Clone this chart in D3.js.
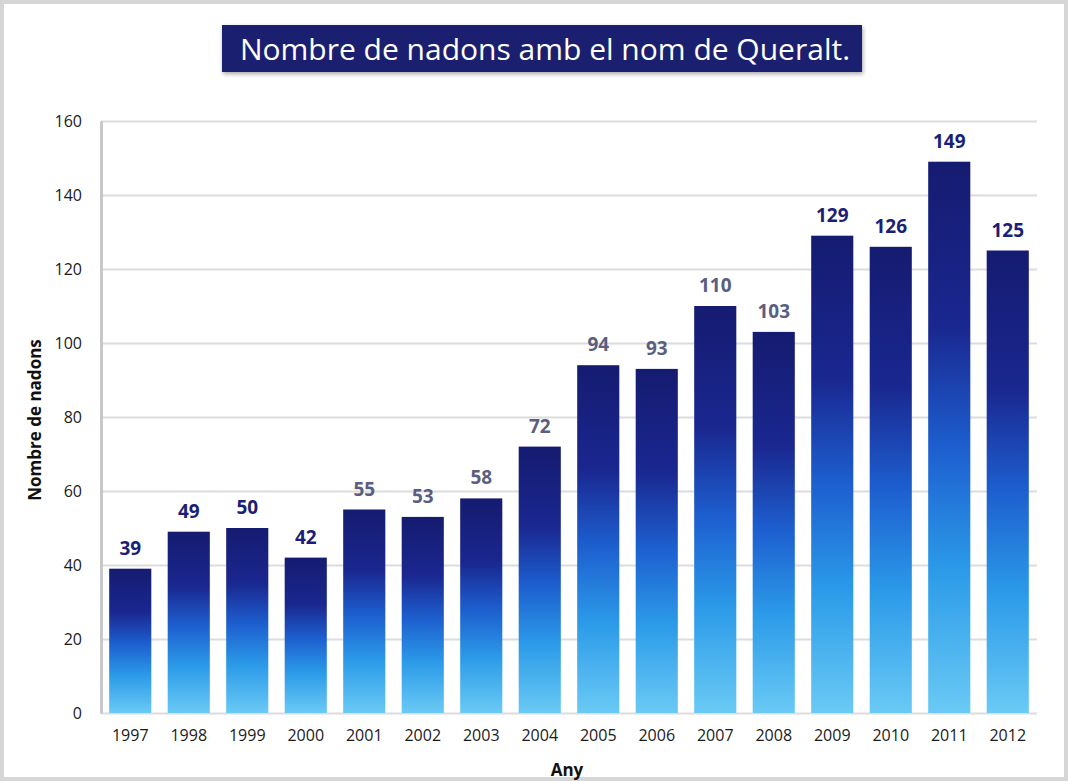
<!DOCTYPE html>
<meta charset="utf-8">
<style>
body { margin: 0; background: #fff; }
svg text { font-family: "Open Sans", "Noto Sans", sans-serif; }
.grid line { stroke: #dcdcdc; stroke-width: 2px; }
.grid path { display: none; }
.axis text { font-size: 16px; fill: #1a1a1a; }
.axis path, .axis line { stroke: #c8c8c8; }
</style>
<body>
<script src="https://d3js.org/d3.v7.min.js"></script>
<script>
// data
var years = ["1997","1998","1999","2000","2001","2002","2003","2004",
             "2005","2006","2007","2008","2009","2010","2011","2012"];
var births = [39, 49, 50, 42, 55, 53, 58, 72, 94, 93, 110, 103, 129, 126, 149, 125];
var yTicks = [0, 20, 40, 60, 80, 100, 120, 140, 160];

var W = 1068, H = 781;
var margin = {top: 121, right: 31, bottom: 68, left: 101},
    width = W - margin.left - margin.right,
    height = H - margin.top - margin.bottom;

var svg = d3.select("body").append("svg")
    .attr("width", W)
    .attr("height", H);

// light frame round the picture
svg.append("rect")
    .attr("x", 2).attr("y", 2)
    .attr("width", W - 4).attr("height", H - 4)
    .attr("fill", "#fff")
    .attr("stroke", "#d6d6d6")
    .attr("stroke-width", 4);

var defs = svg.append("defs");
var grad = defs.append("linearGradient")
    .attr("id", "barGrad")
    .attr("x1", 0).attr("y1", 0).attr("x2", 0).attr("y2", 1);
[["0%", "#151b70"], ["30%", "#1a2790"], ["52%", "#1d5fcf"],
 ["74%", "#2b9ae8"], ["100%", "#6acaf5"]].forEach(function(s) {
  grad.append("stop").attr("offset", s[0]).attr("stop-color", s[1]);
});

// title box
var title = svg.append("g");
title.append("rect")
    .attr("x", 222).attr("y", 25)
    .attr("width", 640).attr("height", 47)
    .attr("fill", "#1b1f6f")
    .style("filter", "drop-shadow(1px 2px 2px rgba(0,0,0,0.35))");
title.append("text")
    .attr("x", 545).attr("y", 60)
    .attr("text-anchor", "middle")
    .attr("fill", "#fff")
    .style("font-size", "30px")
    .text("Nombre de nadons amb el nom de Queralt.");

var g = svg.append("g")
    .attr("transform", "translate(" + margin.left + "," + margin.top + ")");

var x = d3.scaleBand().domain(years).range([0, width])
    .paddingInner(0.28).paddingOuter(0.14);
var y = d3.scaleLinear().domain([0, 160]).range([height, 0]);

// gridlines
g.append("g")
    .attr("class", "grid")
    .call(d3.axisLeft(y).tickValues(yTicks).tickSize(-width).tickFormat(""));

// y axis
g.append("g")
    .attr("class", "axis")
    .call(d3.axisLeft(y).tickValues(yTicks).tickSize(0).tickPadding(19))
    .select(".domain").attr("stroke-width", 3);

// x axis
g.append("g")
    .attr("class", "axis")
    .attr("transform", "translate(0," + height + ")")
    .call(d3.axisBottom(x).tickSize(0).tickPadding(17))
    .select(".domain").remove();

// bars
g.selectAll(".bar")
    .data(births)
  .enter().append("rect")
    .attr("class", "bar")
    .attr("x", function(d, i) { return x(years[i]); })
    .attr("y", function(d) { return y(d); })
    .attr("width", x.bandwidth())
    .attr("height", function(d) { return height - y(d); })
    .attr("fill", "url(#barGrad)");

// value labels
g.selectAll(".lbl")
    .data(births)
  .enter().append("text")
    .attr("class", "lbl")
    .attr("x", function(d, i) { return x(years[i]) + x.bandwidth() / 2; })
    .attr("y", function(d) { return y(d) - 14; })
    .attr("text-anchor", "middle")
    .style("font-size", "19px")
    .style("font-weight", "bold")
    .attr("fill", function(d, i) { return (i >= 4 && i <= 11) ? "#5a5e80" : "#1b1f75"; })
    .text(function(d) { return d; });

// axis titles
svg.append("text")
    .attr("x", margin.left + width / 2 - 2)
    .attr("y", 776)
    .attr("text-anchor", "middle")
    .style("font-size", "17px")
    .style("font-weight", "bold")
    .attr("fill", "#111")
    .text("Any");

svg.append("text")
    .attr("transform", "translate(41," + (margin.top + height / 2 + 3) + ") rotate(-90)")
    .attr("text-anchor", "middle")
    .style("font-size", "17px")
    .style("font-weight", "bold")
    .attr("fill", "#111")
    .text("Nombre de nadons");
</script>
</body>
